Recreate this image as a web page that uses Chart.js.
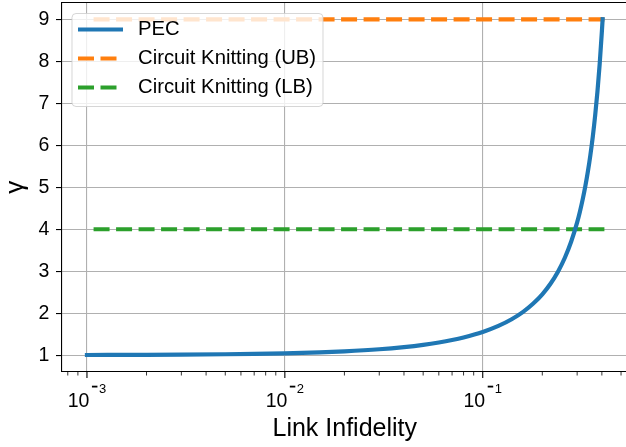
<!DOCTYPE html>
<html>
<head>
<meta charset="utf-8">
<script src="https://cdn.jsdelivr.net/npm/chart.js@4/dist/chart.umd.min.js"></script>
<style>
  html, body { margin: 0; padding: 0; background: #fff; overflow: hidden; }
  #wrap { width: 630px; height: 447px; }
</style>
</head>
<body>
<div id="wrap"><canvas id="grafico" width="630" height="447"></canvas></div>
<script>
// valores
const pecX = [0.001, 0.002, 0.003, 0.005, 0.007, 0.01, 0.015, 0.02, 0.03, 0.04, 0.05, 0.06, 0.07, 0.08,
  0.1, 0.12, 0.14, 0.16, 0.18, 0.2, 0.22, 0.24, 0.26, 0.28, 0.3, 0.31, 0.32, 0.33, 0.34, 0.35, 0.36,
  0.37, 0.38, 0.39, 0.4, 0.4035];
const pecY = [1.0045, 1.009, 1.0135, 1.0226, 1.0317, 1.0456, 1.069, 1.093, 1.142, 1.194, 1.247, 1.303, 1.361, 1.4225,
  1.553, 1.697, 1.856, 2.032, 2.23, 2.451, 2.703, 2.99, 3.321, 3.707, 4.163, 4.423, 4.71, 5.026, 5.377, 5.77, 6.211,
  6.711, 7.282, 7.94, 8.707, 9.0];
const boundX = [0.00108, 0.412];
const ubY = [9, 9];
const lbY = [4, 4];
const seriesLabels = ['PEC', 'Circuit Knitting (UB)', 'Circuit Knitting (LB)'];
const yTicks = [1, 2, 3, 4, 5, 6, 7, 8, 9];
const xMajor = [0.001, 0.01, 0.1];

const FONT = "'Liberation Sans', Arial, sans-serif";
const xMin = 0.000748, xMax = 0.539;

const isDecade = v => Math.abs(Math.log10(v) - Math.round(Math.log10(v))) < 1e-6;

// ticks menores do eixo log (2..9 de cada década)
const xTickValues = [];
[0.0001, 0.001, 0.01, 0.1].forEach(d => {
  for (let m = 1; m <= 9; m++) {
    const v = m === 1 ? d : +(m * d).toPrecision(3);
    if (v >= xMin && v <= xMax) xTickValues.push(v);
  }
});

const pontos = (xs, ys) => xs.map((x, i) => ({ x, y: ys[i] }));

const extras = {
  id: 'extras',
  afterDraw(chart) {
    const ctx = chart.ctx;
    const area = chart.chartArea;
    const sx = chart.scales.x;
    ctx.save();

    // borda superior
    ctx.strokeStyle = '#000';
    ctx.lineWidth = 1.1;
    ctx.beginPath();
    ctx.moveTo(area.left, area.top);
    ctx.lineTo(area.right, area.top);
    ctx.stroke();

    // marcas do eixo x
    sx.ticks.forEach(t => {
      const px = sx.getPixelForValue(t.value);
      const major = isDecade(t.value);
      ctx.lineWidth = major ? 1.1 : 0.8;
      ctx.beginPath();
      ctx.moveTo(px, area.bottom);
      ctx.lineTo(px, area.bottom + (major ? 6 : 3.5));
      ctx.stroke();
    });

    // rótulos 10^n
    ctx.fillStyle = '#000';
    ctx.textBaseline = 'alphabetic';
    ctx.textAlign = 'left';
    xMajor.forEach(v => {
      const px = sx.getPixelForValue(v);
      const exp = Math.abs(Math.round(Math.log10(v))).toString();
      ctx.font = '19.5px ' + FONT;
      const w10 = ctx.measureText('10').width;
      ctx.font = '13px ' + FONT;
      const wExp = ctx.measureText(exp).width;
      const total = w10 + 9.5 + wExp;
      const x0 = px - total / 2;
      ctx.font = '19.5px ' + FONT;
      ctx.fillText('10', x0, area.bottom + 35);
      ctx.fillRect(x0 + w10 + 2.5, area.bottom + 13.7, 5.5, 1.8);
      ctx.font = '13px ' + FONT;
      ctx.fillText(exp, x0 + w10 + 9.5, area.bottom + 20.5);
    });

    // legenda
    const lx = area.left + 10, ly = area.top + 11, lw = 251, lh = 93;
    ctx.beginPath();
    if (ctx.roundRect) ctx.roundRect(lx, ly, lw, lh, 4); else ctx.rect(lx, ly, lw, lh);
    ctx.fillStyle = 'rgba(255,255,255,0.8)';
    ctx.fill();
    ctx.strokeStyle = 'rgba(204,204,204,0.8)';
    ctx.lineWidth = 1;
    ctx.stroke();

    chart.data.datasets.forEach((ds, i) => {
      const y = ly + 16 + i * 29;
      ctx.strokeStyle = ds.borderColor;
      ctx.lineWidth = ds.borderWidth;
      ctx.lineCap = 'butt';
      ctx.setLineDash(ds.borderDash || []);
      ctx.beginPath();
      ctx.moveTo(lx + 6, y);
      ctx.lineTo(lx + 51, y);
      ctx.stroke();
      ctx.setLineDash([]);
      ctx.fillStyle = '#000';
      ctx.font = '20.3px ' + FONT;
      ctx.textBaseline = 'middle';
      ctx.fillText(ds.label, lx + 66, y);
    });

    ctx.restore();
  }
};

new Chart(document.getElementById('grafico'), {
  type: 'line',
  data: {
    datasets: [
      {
        label: seriesLabels[0],
        data: pontos(pecX, pecY),
        borderColor: '#1f77b4',
        borderWidth: 4.2,
        pointRadius: 0,
        cubicInterpolationMode: 'monotone',
        borderCapStyle: 'square',
        borderJoinStyle: 'round'
      },
      {
        label: seriesLabels[1],
        data: pontos(boundX, ubY),
        borderColor: '#ff7f0e',
        borderWidth: 4.2,
        borderDash: [16, 6.5],
        pointRadius: 0
      },
      {
        label: seriesLabels[2],
        data: pontos(boundX, lbY),
        borderColor: '#2ca02c',
        borderWidth: 4.2,
        borderDash: [16, 6.5],
        pointRadius: 0
      }
    ]
  },
  options: {
    responsive: false,
    animation: false,
    devicePixelRatio: 1,
    layout: { padding: { top: 2.5, right: 2.5, left: 0, bottom: 0 } },
    plugins: {
      legend: { display: false },
      tooltip: { enabled: false }
    },
    scales: {
      x: {
        type: 'logarithmic',
        min: xMin,
        max: xMax,
        afterBuildTicks: axis => {
          axis.ticks = xTickValues.map(v => ({ value: v }));
        },
        afterFit: axis => {
          axis.height = 75;
          axis.paddingLeft = 0;
          axis.paddingRight = 0;
        },
        ticks: { display: false },
        grid: {
          color: ctx => (ctx.tick && isDecade(ctx.tick.value)) ? '#b0b0b0' : 'rgba(0,0,0,0)',
          lineWidth: 1.1,
          drawTicks: false
        },
        border: { display: true, color: '#000', width: 1.1 },
        title: {
          display: true,
          text: 'Link Infidelity',
          color: '#000',
          font: { family: FONT, size: 25 },
          padding: { top: 0, bottom: 3 }
        }
      },
      y: {
        type: 'linear',
        min: 0.6,
        max: 9.4,
        afterBuildTicks: axis => {
          axis.ticks = yTicks.map(v => ({ value: v }));
        },
        afterFit: axis => {
          axis.width = 62;
          axis.paddingTop = 0;
          axis.paddingBottom = 0;
        },
        ticks: {
          color: '#000',
          font: { family: FONT, size: 19.5 },
          padding: 6.7
        },
        grid: {
          color: '#b0b0b0',
          lineWidth: 1.1,
          tickColor: '#000',
          tickLength: 6
        },
        border: { display: true, color: '#000', width: 1.1 },
        title: {
          display: true,
          text: 'γ',
          color: '#000',
          font: { family: FONT, size: 26 },
          padding: { top: 0, bottom: 0 }
        }
      }
    }
  },
  plugins: [extras]
});
</script>
</body>
</html>
